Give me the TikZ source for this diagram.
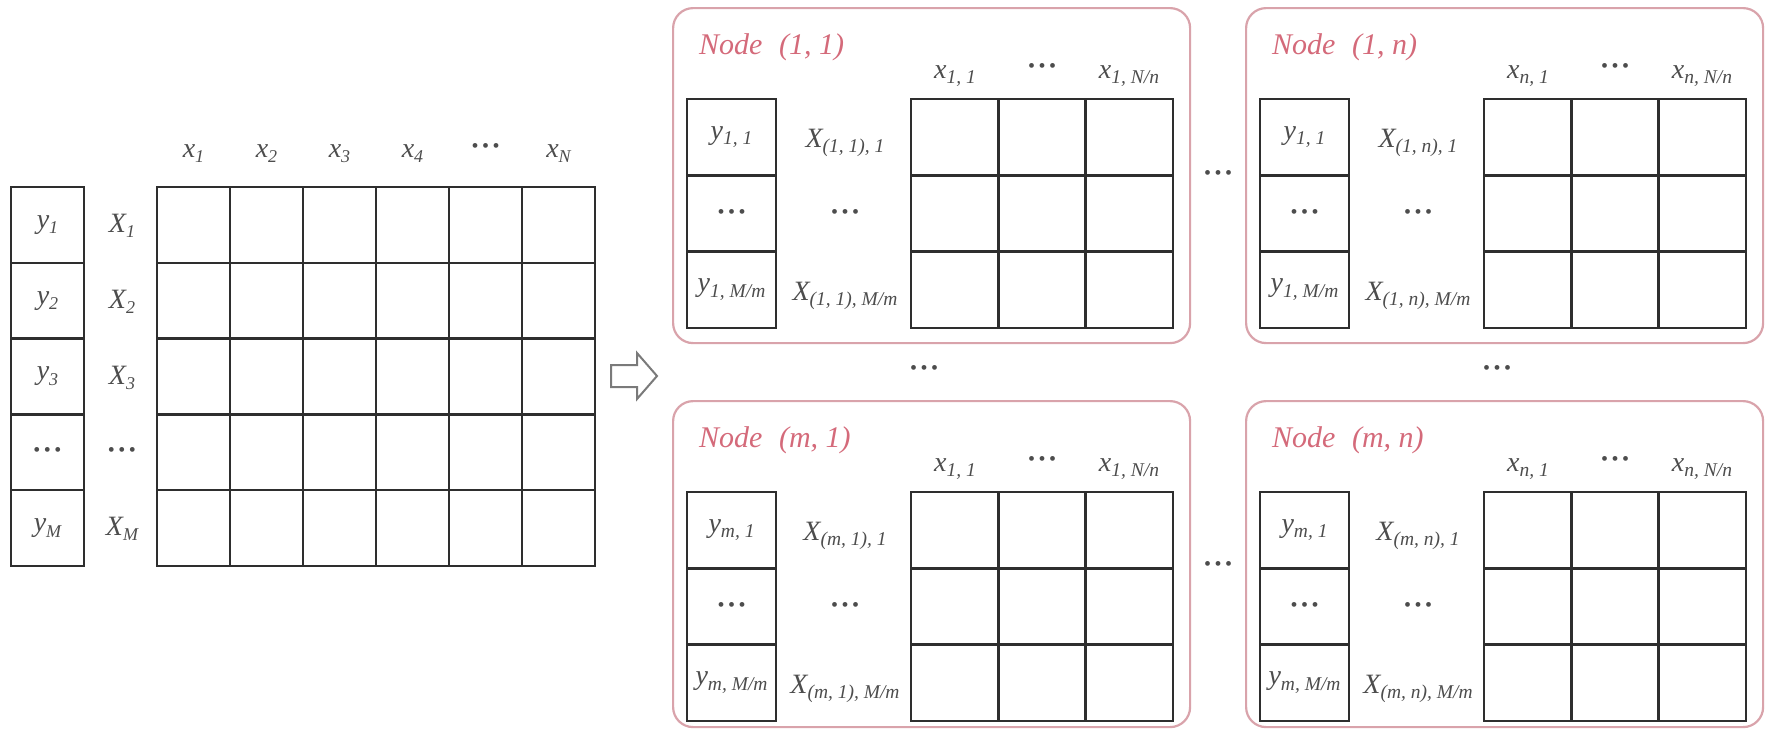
\documentclass[tikz,border=0pt]{standalone}
\usepackage{fontspec}
\setmainfont{Liberation Serif}
\definecolor{gridc}{HTML}{2E2E2E}
\definecolor{labc}{HTML}{4D4D4D}
\definecolor{pinkb}{HTML}{D9A3AB}
\definecolor{pinkt}{HTML}{D46A7A}
\definecolor{arrowc}{HTML}{7A7A7A}
\newcommand\lbl[2]{{\itshape #1\raisebox{-0.2em}{\fontsize{18}{18}\selectfont #2}}}
\newcommand\lbs[2]{{\itshape #1\raisebox{-0.2em}{\fontsize{19.5}{19.5}\selectfont #2}}}
\newcommand\dts{{\fontsize{20}{20}\selectfont\textbullet\kern3.5pt\textbullet\kern3.5pt\textbullet}}
\newcommand\mkpanel[8]{%
\begin{scope}[shift={(#2,#3)}]
\node[panelbox, minimum width=517pt, minimum height=#4pt, anchor=north west] (#1) at (0,0) {};
\node[nodelabel, anchor=west] (#1-title) at (27,40) {Node\hspace{0.55em}(#5)};
\node[lab, anchor=base] (#1-t1) at (283,71) {\lbs{x}{#6, 1}};
\node[lab] (#1-t2) at (370,61) {\dts};
\node[lab, anchor=base] (#1-t3) at (457,71) {\lbs{x}{#6, N/n}};
\node[cell, minimum width=89pt, minimum height=76.3pt] (#1-y1) at (59.5,130.2) {\lbs{y}{#7, 1}};
\node[cell, minimum width=89pt, minimum height=76.3pt] (#1-y2) at (59.5,206.5) {\dts};
\node[cell, minimum width=89pt, minimum height=76.3pt] (#1-y3) at (59.5,282.8) {\lbs{y}{#7, M/m}};
\node[lab, anchor=base] (#1-X1) at (173,140) {\lbs{X}{(#8), 1}};
\node[lab] (#1-X2) at (173,206.5) {\dts};
\node[lab, anchor=base] (#1-X3) at (173,293) {\lbs{X}{(#8), M/m}};
\foreach \j in {0,1,2}{\foreach \i in {0,1,2}{
 \node[cell, minimum width=87.33pt, minimum height=76.33pt] (#1-g-\i-\j) at ({239+87.33*(\i+0.5)},{92+76.33*(\j+0.5)}) {};}}
\end{scope}}
\begin{document}
\begin{tikzpicture}[x=1pt,y=-1pt,
  cell/.style={draw=gridc, line width=2.5pt, inner sep=0pt, anchor=center, text=labc, font=\fontsize{28}{30}\selectfont},
  lab/.style={text=labc, inner sep=0pt, font=\fontsize{28}{30}\selectfont},
  panelbox/.style={draw=pinkb, line width=2.2pt, rounded corners=20pt, inner sep=0pt},
  nodelabel/.style={text=pinkt, inner sep=0pt, font=\fontsize{30}{32}\selectfont\itshape}]
\useasboundingbox (0,0) rectangle (1766,729);
% left: y column
\node[cell, minimum width=73pt, minimum height=75.8pt] (y1) at (47.5,224.9) {\lbl{y}{1}};
\node[cell, minimum width=73pt, minimum height=75.8pt] (y2) at (47.5,300.7) {\lbl{y}{2}};
\node[cell, minimum width=73pt, minimum height=75.8pt] (y3) at (47.5,376.5) {\lbl{y}{3}};
\node[cell, minimum width=73pt, minimum height=75.8pt] (y4) at (47.5,452.3) {\dts};
\node[cell, minimum width=73pt, minimum height=75.8pt] (y5) at (47.5,528.1) {\lbl{y}{M}};
% X labels
\node[lab, anchor=base] (X1) at (122,232) {\lbl{X}{1}};
\node[lab, anchor=base] (X2) at (122,308) {\lbl{X}{2}};
\node[lab, anchor=base] (X3) at (122,384) {\lbl{X}{3}};
\node[lab] (X4) at (122,452.3) {\dts};
\node[lab, anchor=base] (X5) at (122,535) {\lbl{X}{M}};
% top labels
\node[lab, anchor=base] (x1) at (193.5,157) {\lbl{x}{1}};
\node[lab, anchor=base] (x2) at (266.5,157) {\lbl{x}{2}};
\node[lab, anchor=base] (x3) at (339.5,157) {\lbl{x}{3}};
\node[lab, anchor=base] (x4) at (412.5,157) {\lbl{x}{4}};
\node[lab] (x5) at (485.5,148) {\dts};
\node[lab, anchor=base] (x6) at (558.5,157) {\lbl{x}{N}};
% left grid
\foreach \j in {0,...,4}{\foreach \i in {0,...,5}{
 \node[cell, minimum width=73pt, minimum height=75.8pt] (g-\i-\j) at ({157+73*(\i+0.5)},{187+75.8*(\j+0.5)}) {};}}
% arrow
\draw[draw=arrowc, line width=2pt, fill=white, line join=miter]
  (611,365) -- (637,365) -- (637,353) -- (657,376) -- (637,399) -- (637,387) -- (611,387) -- cycle;
% panels
\mkpanel{p11}{672}{7}{335}{1, 1}{1}{1}{1, 1}
\mkpanel{p1n}{1245}{7}{335}{1, n}{n}{1}{1, n}
\mkpanel{pm1}{672}{400}{326}{m, 1}{1}{m}{m, 1}
\mkpanel{pmn}{1245}{400}{326}{m, n}{n}{m}{m, n}
% dots between panels
\node[lab] (dh1) at (1218,175) {\dts};
\node[lab] (dh2) at (1218,566) {\dts};
\node[lab] (dv1) at (924,370) {\dts};
\node[lab] (dv2) at (1497,370) {\dts};
\end{tikzpicture}
\end{document}
